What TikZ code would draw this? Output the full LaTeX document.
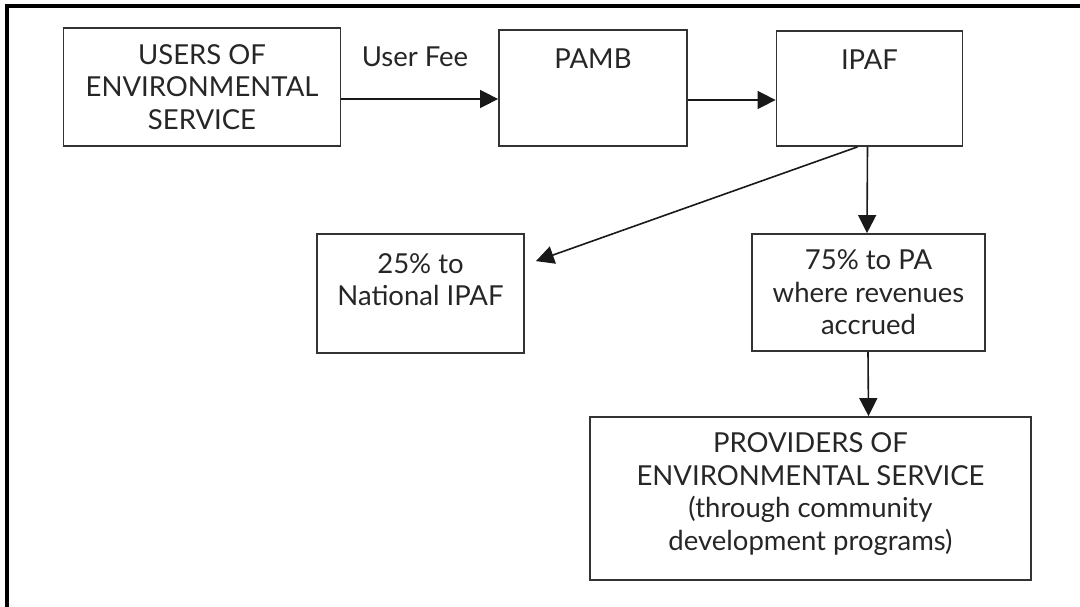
\documentclass[tikz,border=0pt]{standalone}
\usepackage{fontspec}
\setmainfont{Lato}
\usetikzlibrary{arrows.meta,calc}
\begin{document}
\begin{tikzpicture}[x=1pt,y=-1pt,
  box/.style={draw=black!80, line width=1.8pt, align=center, inner sep=0pt,
    font=\fontsize{27.5}{32.5}\selectfont, text=black!85},
  arr/.style={line width=1.6pt, draw=black!90, -{Triangle[length=18pt,width=18pt]}},
  lbl/.style={font=\fontsize{27.5}{32.5}\selectfont, text=black!85, inner sep=0pt}]
\useasboundingbox (0,0) rectangle (1080,607);
\draw[line width=3.5pt] (7,612) -- (7,6) -- (1086,6);
% boxes
\node[box, minimum width=277pt, minimum height=118pt] (users) at (202,87)
  {USERS OF\\ENVIRONMENTAL\\SERVICE};
\node[box, minimum width=188pt, minimum height=116pt, text depth=58pt] (pamb) at (593,88) {PAMB};
\node[box, minimum width=186pt, minimum height=115pt, text depth=58pt] (ipaf) at (869.5,88.5) {IPAF};
\node[box, minimum width=207pt, minimum height=119pt, text depth=28pt] (nat) at (420.5,293.5)
  {25\% to\\National IPAF};
\node[box, minimum width=233pt, minimum height=117pt] (pa) at (868.5,292.5)
  {75\% to PA\\where revenues\\accrued};
\node[box, minimum width=441pt, minimum height=163pt, text depth=14pt] (prov) at (810.5,498.5)
  {PROVIDERS OF\\ENVIRONMENTAL SERVICE\\(through community\\development programs)};
\node[lbl] (fee) at (415,57) {User Fee};
% connectors
\draw[arr] (users.east |- 0,99) -- (pamb.west |- 0,99);
\draw[arr] (pamb.east |- 0,100) -- (ipaf.west |- 0,100);
\draw[arr] ([xshift=-12pt]ipaf.south) -- ([xshift=11pt,yshift=-28pt]nat.north east);
\draw[arr] ([xshift=-2pt]ipaf.south) -- ([xshift=-1.5pt]pa.north);
\draw[arr] ([xshift=-0.5pt]pa.south) -- (pa.south |- prov.north);
\end{tikzpicture}
\end{document}
